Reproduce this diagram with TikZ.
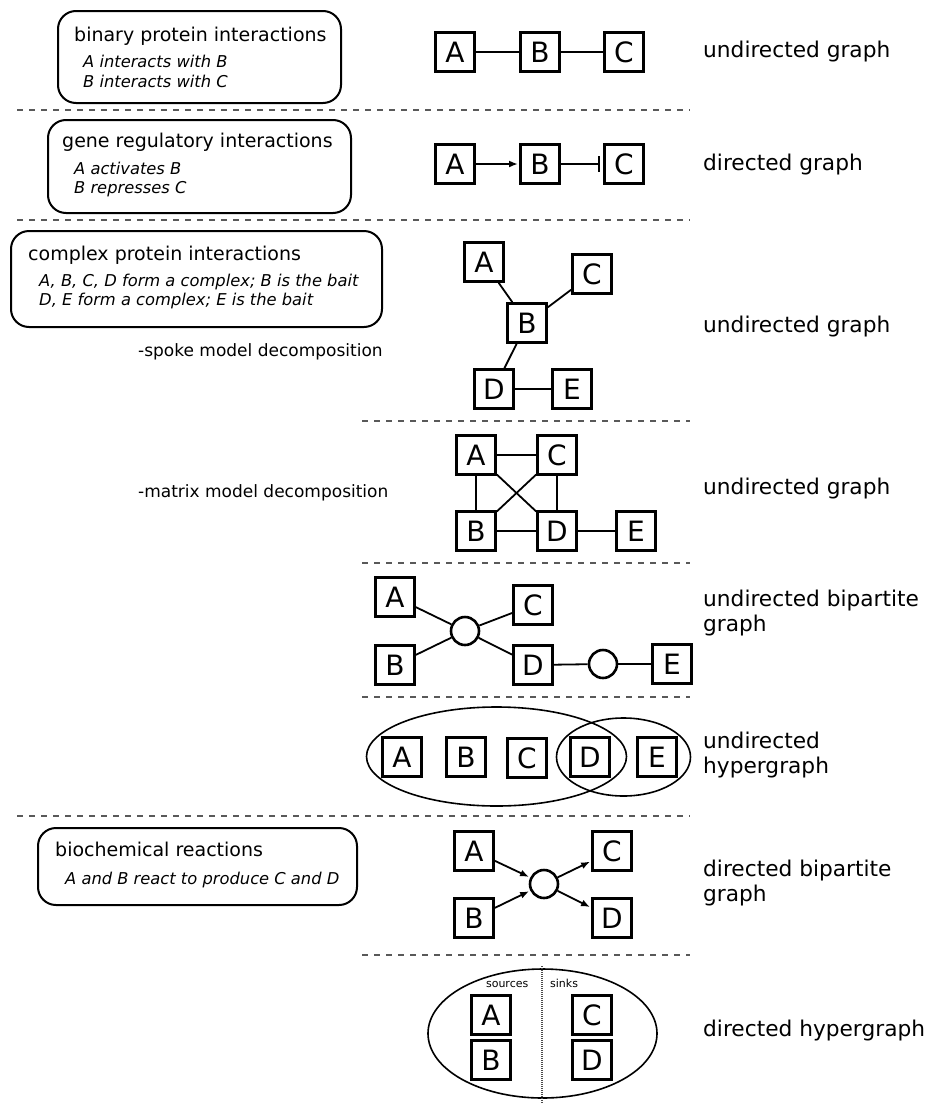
\documentclass[tikz,border=0pt]{standalone}
\usepackage{fontspec}
\setmainfont{DejaVu Sans}
\usetikzlibrary{arrows.meta,shapes.geometric}

\tikzset{
  prot/.style={draw, line width=2.6pt, minimum size=39pt, inner sep=0pt,
               font=\fontsize{28}{28}\selectfont},
  hub/.style={circle, draw, line width=2.6pt, minimum size=28pt, inner sep=0pt},
  link/.style={line width=1.8pt},
  act/.style={link, -{Latex[length=9pt,width=7pt]}, shorten >=1.2pt},
  rep/.style={link, -{Bar[width=16pt]}, shorten >=3pt},
  descbox/.style={draw, rounded corners=18pt, line width=2pt, inner sep=0pt},
  boxtitle/.style={anchor=base west, inner sep=0pt, font=\fontsize{19}{23}\selectfont},
  boxline/.style={anchor=base west, inner sep=0pt, font=\fontsize{16.3}{20}\selectfont\itshape},
  kind/.style={anchor=base west, inner sep=0pt, font=\fontsize{21.7}{25}\selectfont},
  note/.style={anchor=base west, inner sep=0pt, font=\fontsize{17}{20}\selectfont},
  tiny/.style={inner sep=0pt, font=\fontsize{11}{12}\selectfont},
  sep/.style={draw=black!65, line width=1.2pt, dash pattern=on 6pt off 6pt},
  hyper/.style={ellipse, draw, line width=1.6pt, inner sep=0pt},
}

\begin{document}
\begin{tikzpicture}[x=1pt, y=-1pt]
\useasboundingbox (0,0) rectangle (927,1103);
\fill[white] (0,0) rectangle (927,1103);

% ---------- section separators ----------
\draw[sep] (17,110) -- (690,110);
\draw[sep] (17,220) -- (690,220);
\draw[sep] (362,421) -- (690,421);
\draw[sep] (362,563) -- (690,563);
\draw[sep] (362,697) -- (690,697);
\draw[sep] (17,816) -- (690,816);
\draw[sep] (362,955) -- (690,955);

% ---------- description boxes ----------
\node[descbox, minimum width=283pt, minimum height=92pt] (box1) at (199.5,57) {};
\node[boxtitle] (t1) at (74,41.7) {binary protein interactions};
\node[boxline] (t1a) at (83,67.7) {A interacts with B};
\node[boxline] (t1b) at (83,87.3) {B interacts with C};

\node[descbox, minimum width=303pt, minimum height=93pt] (box2) at (199.5,166.5) {};
\node[boxtitle] (t2) at (62,147.7) {gene regulatory interactions};
\node[boxline] (t2a) at (74,174.3) {A activates B};
\node[boxline] (t2b) at (74,193.3) {B represses C};

\node[descbox, minimum width=371pt, minimum height=96pt] (box3) at (196.5,279) {};
\node[boxtitle] (t3) at (28,260) {complex protein interactions};
\node[boxline] (t3a) at (39,286) {A, B, C, D form a complex; B is the bait};
\node[boxline] (t3b) at (39,305.7) {D, E form a complex; E is the bait};

\node[note] (spoke) at (138,356.7) {-spoke model decomposition};
\node[note] (matrix) at (138,497.3) {-matrix model decomposition};

\node[descbox, minimum width=319pt, minimum height=77pt] (box4) at (197.5,866.5) {};
\node[boxtitle] (t4) at (55,856.7) {biochemical reactions};
\node[boxline] (t4a) at (65,884) {A and B react to produce C and D};

% ---------- graph kinds ----------
\node[kind] (k1) at (703,57.3) {undirected graph};
\node[kind] (k2) at (703,170) {directed graph};
\node[kind] (k3) at (703,332) {undirected graph};
\node[kind] (k4) at (703,494.3) {undirected graph};
\node[kind] (k5a) at (703,606.7) {undirected bipartite};
\node[kind] (k5b) at (703,631.7) {graph};
\node[kind] (k6a) at (703,748.3) {undirected};
\node[kind] (k6b) at (703,773.3) {hypergraph};
\node[kind] (k7a) at (703,876.7) {directed bipartite};
\node[kind] (k7b) at (703,901.7) {graph};
\node[kind] (k8) at (703,1036.7) {directed hypergraph};

% ---------- undirected graph ----------
\node[prot] (a1) at (455,52) {A};
\node[prot] (b1) at (540,52) {B};
\node[prot] (c1) at (624,52) {C};
\draw[link] (a1) -- (b1);
\draw[link] (b1) -- (c1);

% ---------- directed graph ----------
\node[prot] (a2) at (455,164) {A};
\node[prot] (b2) at (540,164) {B};
\node[prot] (c2) at (624,164) {C};
\draw[act] (a2) -- (b2);
\draw[rep] (b2) -- (c2);

% ---------- spoke model ----------
\node[prot] (a3) at (484,262) {A};
\node[prot] (c3) at (592,274) {C};
\node[prot] (b3) at (527,323) {B};
\node[prot] (d3) at (494,389) {D};
\node[prot] (e3) at (572,389) {E};
\draw[link] (a3) -- (b3);
\draw[link] (c3) -- (b3);
\draw[link] (b3) -- (d3);
\draw[link] (d3) -- (e3);

% ---------- matrix model ----------
\node[prot] (a4) at (476,455) {A};
\node[prot] (c4) at (557,455) {C};
\node[prot] (b4) at (476,531) {B};
\node[prot] (d4) at (557,531) {D};
\node[prot] (e4) at (636,531) {E};
\draw[link] (a4) -- (c4);
\draw[link] (a4) -- (b4);
\draw[link] (c4) -- (d4);
\draw[link] (b4) -- (d4);
\draw[link] (a4) -- (d4);
\draw[link] (c4) -- (b4);
\draw[link] (d4) -- (e4);

% ---------- undirected bipartite graph ----------
\node[prot] (a5) at (395,597) {A};
\node[prot] (b5) at (395,665) {B};
\node[prot] (c5) at (533,605) {C};
\node[prot] (d5) at (533,665) {D};
\node[prot] (e5) at (672,664) {E};
\node[hub] (h5) at (465,631) {};
\node[hub] (g5) at (603,664) {};
\draw[link] (a5) -- (h5);
\draw[link] (b5) -- (h5);
\draw[link] (c5) -- (h5);
\draw[link] (d5) -- (h5);
\draw[link] (d5) -- (g5);
\draw[link] (g5) -- (e5);

% ---------- undirected hypergraph ----------
\node[hyper, minimum width=260pt, minimum height=99pt] (cx1) at (496.5,756.5) {};
\node[hyper, minimum width=134pt, minimum height=78pt] (cx2) at (623.5,757) {};
\node[prot] (a6) at (402,757) {A};
\node[prot] (b6) at (466,757) {B};
\node[prot] (c6) at (527,758) {C};
\node[prot] (d6) at (590,757) {D};
\node[prot] (e6) at (657,757) {E};

% ---------- directed bipartite graph ----------
\node[prot] (a7) at (474,851) {A};
\node[prot] (b7) at (474,918) {B};
\node[prot] (c7) at (612,851) {C};
\node[prot] (d7) at (612,918) {D};
\node[hub] (h7) at (544,884) {};
\draw[act] (a7) -- (h7);
\draw[act] (b7) -- (h7);
\draw[act] (h7) -- (c7);
\draw[act] (h7) -- (d7);

% ---------- directed hypergraph ----------
\node[hyper, minimum width=229pt, minimum height=129pt] (rx) at (542.5,1033.5) {};
\coordinate (splitTop) at (542,966);
\coordinate (splitBot) at (542,1103);
\draw[black!70, line width=1.2pt, dash pattern=on 1pt off 1pt] (splitTop) -- (splitBot);
\node[tiny, anchor=base east] (src) at (528.5,987.3) {sources};
\node[tiny, anchor=base west] (snk) at (550,987.3) {sinks};
\node[prot] (a8) at (491,1015) {A};
\node[prot] (b8) at (491,1060) {B};
\node[prot] (c8) at (592,1015) {C};
\node[prot] (d8) at (592,1060) {D};

\end{tikzpicture}
\end{document}
